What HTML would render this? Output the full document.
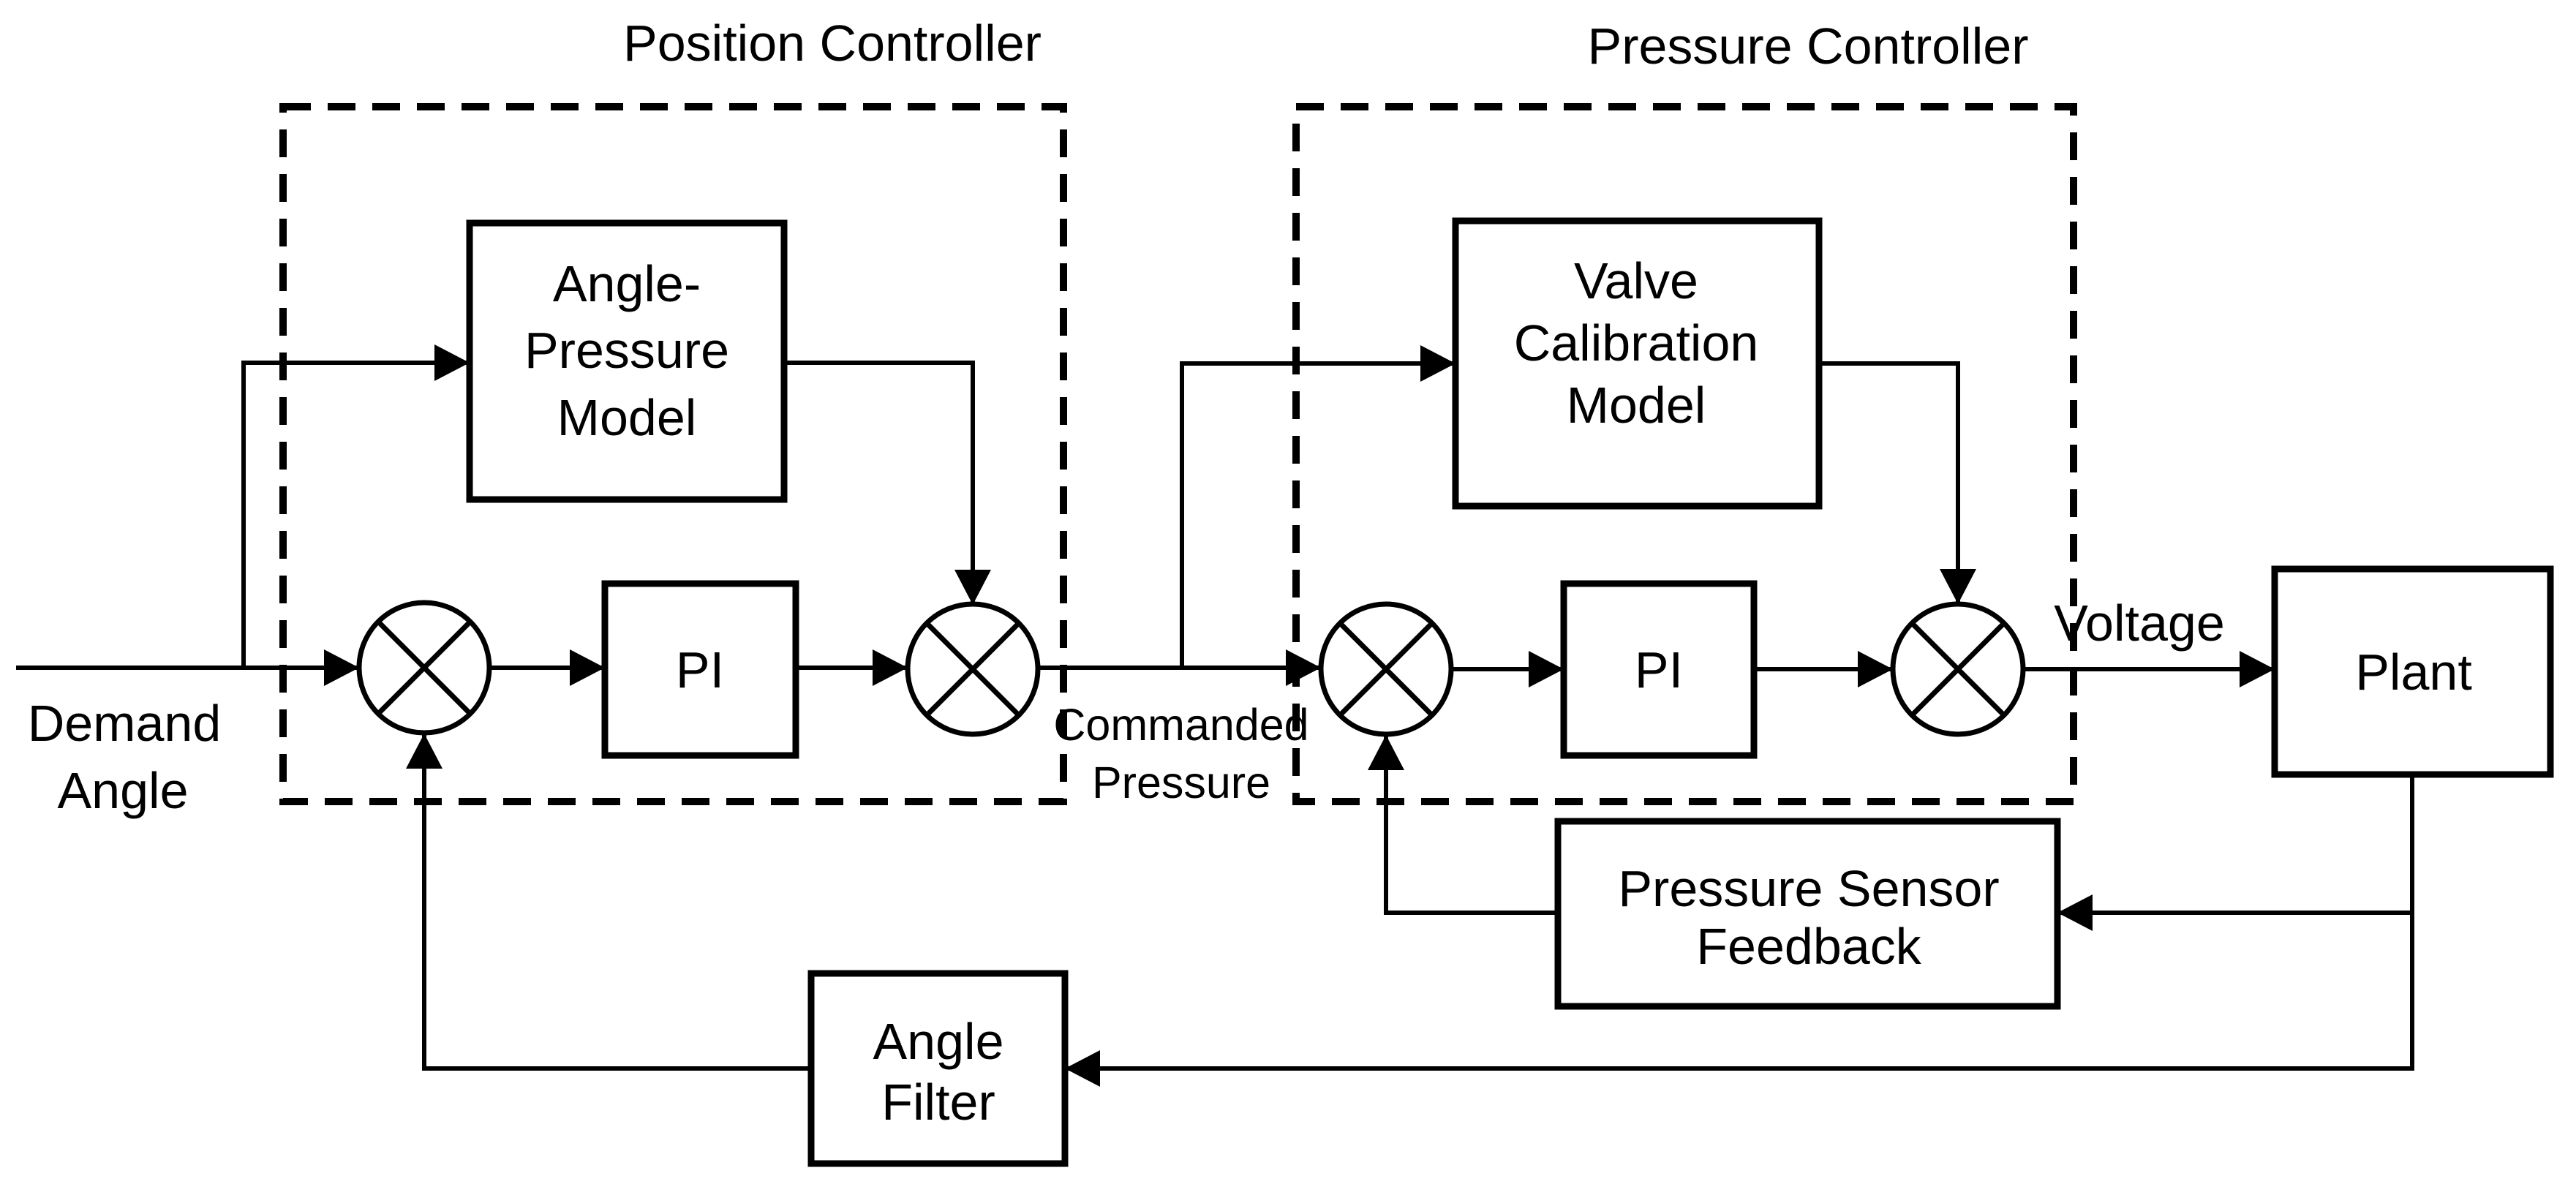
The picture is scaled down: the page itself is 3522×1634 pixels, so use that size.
<!DOCTYPE html>
<html><head><meta charset="utf-8"><style>
html,body{margin:0;padding:0;background:#fff;}
svg{display:block;}
text{font-family:"Liberation Sans",Arial,sans-serif;fill:#000;}
</style></head><body>
<svg width="3522" height="1634" viewBox="0 0 3522 1634" xmlns="http://www.w3.org/2000/svg">
<defs>
<marker id="a" markerWidth="48" markerHeight="50" refX="48" refY="25" orient="auto" markerUnits="userSpaceOnUse">
<path d="M0,0 L48,25 L0,50 Z" fill="#000"/>
</marker>
</defs>
<rect width="3522" height="1634" fill="#fff"/>
<g fill="none" stroke="#000" stroke-width="10" stroke-dasharray="38 23">
<rect x="387" y="146" width="1067" height="950"/>
<rect x="1772" y="146" width="1063" height="950"/>
</g>
<text x="1138" y="83" font-size="70" text-anchor="middle">Position Controller</text>
<text x="2472" y="87" font-size="70" text-anchor="middle">Pressure Controller</text>
<g fill="none" stroke="#000" stroke-width="6">
<path d="M22,913 L491,913" marker-end="url(#a)"/>
<path d="M333,913 L333,496 L642,496" marker-end="url(#a)"/>
<path d="M1072,496 L1330,496 L1330,827" marker-end="url(#a)"/>
<path d="M669,913 L827,913" marker-end="url(#a)"/>
<path d="M1088,913 L1241,913" marker-end="url(#a)"/>
<path d="M1419,913 L1806,913" marker-end="url(#a)"/>
<path d="M1616,913 L1616,497 L1990,497" marker-end="url(#a)"/>
<path d="M2487,497 L2677,497 L2677,826" marker-end="url(#a)"/>
<path d="M1984,915 L2138,915" marker-end="url(#a)"/>
<path d="M2398,915 L2588,915" marker-end="url(#a)"/>
<path d="M2766,915 L3110,915" marker-end="url(#a)"/>
<path d="M3298,1060 L3298,1461 L1456,1461" marker-end="url(#a)"/>
<path d="M3298,1248 L2813,1248" marker-end="url(#a)"/>
<path d="M2130,1248 L1895,1248 L1895,1005" marker-end="url(#a)"/>
<path d="M1109,1461 L580,1461 L580,1003" marker-end="url(#a)"/>
</g>
<g fill="#fff" stroke="#000" stroke-width="9">
<rect x="642" y="305" width="430" height="378"/>
<rect x="827" y="798" width="261" height="235"/>
<rect x="1990" y="302" width="497" height="390"/>
<rect x="2138" y="798" width="260" height="235"/>
<rect x="3110" y="778" width="377" height="281"/>
<rect x="2130" y="1123" width="683" height="253"/>
<rect x="1109" y="1331" width="347" height="260"/>
</g>
<g fill="#fff" stroke="#000" stroke-width="7">
<g transform="translate(580,913)"><circle r="89"/><path d="M-63,-63 L63,63 M63,-63 L-63,63"/></g>
<g transform="translate(1330,915)"><circle r="89"/><path d="M-63,-63 L63,63 M63,-63 L-63,63"/></g>
<g transform="translate(1895,915)"><circle r="89"/><path d="M-63,-63 L63,63 M63,-63 L-63,63"/></g>
<g transform="translate(2677,915)"><circle r="89"/><path d="M-63,-63 L63,63 M63,-63 L-63,63"/></g>
</g>
<g font-size="70" text-anchor="middle">
<text x="857" y="412">Angle-</text>
<text x="857" y="503">Pressure</text>
<text x="857" y="595">Model</text>
<text x="957" y="940">PI</text>
<text x="2237" y="408">Valve</text>
<text x="2237" y="493">Calibration</text>
<text x="2237" y="578">Model</text>
<text x="2268" y="940">PI</text>
<text x="3300" y="943">Plant</text>
<text x="2473" y="1239">Pressure Sensor</text>
<text x="2473" y="1318">Feedback</text>
<text x="1283" y="1448">Angle</text>
<text x="1283" y="1531">Filter</text>
<text x="170" y="1013">Demand</text>
<text x="168" y="1105">Angle</text>
<text x="2925" y="876">Voltage</text>
</g>
<g font-size="61" text-anchor="middle">
<text x="1615" y="1012">Commanded</text>
<text x="1615" y="1091">Pressure</text>
</g>
</svg>
</body></html>
